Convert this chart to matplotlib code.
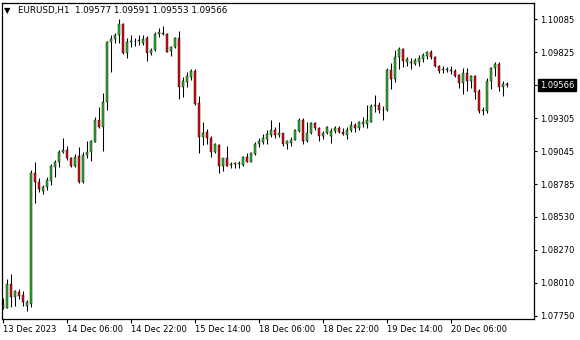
import numpy as np
from matplotlib import pyplot as plt
from matplotlib import transforms

# EURUSD H1 candles (bar 0 = 13 Dec 2023 14:00)
opens = [1.07841, 1.07813, 1.07998, 1.07903, 1.07941, 1.07913, 1.07829, 1.07842, 1.08873, 1.08802,
         1.08736, 1.08763, 1.08815, 1.08925, 1.08960, 1.09038, 1.09056, 1.08991, 1.08933, 1.09009,
         1.08807, 1.09017, 1.09038, 1.09122, 1.09293, 1.09234, 1.09434, 1.09904, 1.09928, 1.09961,
         1.10048, 1.09822, 1.09910, 1.09912, 1.09926, 1.09901, 1.09936, 1.09822, 1.09840, 1.09968,
         1.09981, 1.09973, 1.09838, 1.09869, 1.09936, 1.09550, 1.09594, 1.09633, 1.09678, 1.09430,
         1.09156, 1.09198, 1.09151, 1.09043, 1.09096, 1.08927, 1.08991, 1.08942, 1.08950, 1.08949,
         1.08942, 1.08999, 1.08964, 1.09025, 1.09101, 1.09122, 1.09145, 1.09177, 1.09214, 1.09172,
         1.09190, 1.09101, 1.09115, 1.09135, 1.09206, 1.09289, 1.09131, 1.09190, 1.09269, 1.09227,
         1.09167, 1.09188, 1.09167, 1.09206, 1.09230, 1.09196, 1.09178, 1.09210, 1.09253, 1.09227,
         1.09265, 1.09265, 1.09279, 1.09403, 1.09411, 1.09369, 1.09369, 1.09686, 1.09613, 1.09786,
         1.09851, 1.09747, 1.09739, 1.09733, 1.09751, 1.09773, 1.09800, 1.09824, 1.09791, 1.09718,
         1.09688, 1.09690, 1.09690, 1.09681, 1.09647, 1.09581, 1.09660, 1.09602, 1.09639, 1.09521,
         1.09363, 1.09366, 1.09599, 1.09699, 1.09733, 1.09552, 1.09577]
highs = [1.07892, 1.08041, 1.08084, 1.07955, 1.07960, 1.07947, 1.07876, 1.08899, 1.08964, 1.08834,
         1.08777, 1.08842, 1.08946, 1.08978, 1.09056, 1.09151, 1.09088, 1.09004, 1.09023, 1.09082,
         1.09043, 1.09125, 1.09139, 1.09316, 1.09397, 1.09505, 1.09917, 1.09961, 1.09977, 1.10085,
         1.10054, 1.09942, 1.09965, 1.09942, 1.09961, 1.09958, 1.09954, 1.09862, 1.09985, 1.10013,
         1.10032, 1.09977, 1.09877, 1.09943, 1.09995, 1.09633, 1.09674, 1.09694, 1.09694, 1.09481,
         1.09277, 1.09218, 1.09167, 1.09115, 1.09104, 1.08994, 1.09088, 1.08962, 1.08964, 1.08970,
         1.09009, 1.09030, 1.09043, 1.09122, 1.09149, 1.09186, 1.09214, 1.09293, 1.09237, 1.09277,
         1.09193, 1.09138, 1.09159, 1.09218, 1.09306, 1.09306, 1.09273, 1.09279, 1.09279, 1.09234,
         1.09206, 1.09243, 1.09226, 1.09245, 1.09249, 1.09230, 1.09234, 1.09285, 1.09269, 1.09287,
         1.09316, 1.09411, 1.09418, 1.09489, 1.09438, 1.09403, 1.09702, 1.09739, 1.09843, 1.09869,
         1.09862, 1.09791, 1.09778, 1.09784, 1.09804, 1.09822, 1.09832, 1.09840, 1.09796, 1.09725,
         1.09718, 1.09712, 1.09720, 1.09692, 1.09655, 1.09704, 1.09704, 1.09647, 1.09647, 1.09534,
         1.09395, 1.09621, 1.09712, 1.09751, 1.09751, 1.09599, 1.09591]
lows = [1.07805, 1.07809, 1.07817, 1.07825, 1.07886, 1.07831, 1.07792, 1.07823, 1.08642, 1.08728,
        1.08714, 1.08742, 1.08781, 1.08846, 1.08925, 1.09035, 1.08978, 1.08925, 1.08925, 1.08794,
        1.08794, 1.08990, 1.08970, 1.09120, 1.09227, 1.09051, 1.09371, 1.09673, 1.09899, 1.09899,
        1.09810, 1.09784, 1.09869, 1.09879, 1.09883, 1.09883, 1.09759, 1.09808, 1.09838, 1.09946,
        1.09958, 1.09828, 1.09796, 1.09863, 1.09455, 1.09476, 1.09552, 1.09607, 1.09407, 1.09030,
        1.09096, 1.09104, 1.09004, 1.09033, 1.08873, 1.08894, 1.08927, 1.08915, 1.08915, 1.08912,
        1.08934, 1.08960, 1.08962, 1.09017, 1.09082, 1.09104, 1.09104, 1.09156, 1.09151, 1.09161,
        1.09084, 1.09062, 1.09088, 1.09133, 1.09198, 1.09100, 1.09119, 1.09180, 1.09214, 1.09131,
        1.09143, 1.09182, 1.09114, 1.09188, 1.09190, 1.09175, 1.09143, 1.09200, 1.09200, 1.09214,
        1.09237, 1.09230, 1.09277, 1.09356, 1.09348, 1.09293, 1.09366, 1.09534, 1.09594, 1.09692,
        1.09712, 1.09718, 1.09692, 1.09725, 1.09718, 1.09751, 1.09773, 1.09773, 1.09706, 1.09662,
        1.09665, 1.09673, 1.09655, 1.09629, 1.09544, 1.09497, 1.09523, 1.09544, 1.09455, 1.09348,
        1.09332, 1.09350, 1.09534, 1.09639, 1.09523, 1.09484, 1.09553]
closes = [1.07813, 1.07998, 1.07903, 1.07947, 1.07907, 1.07863, 1.07858, 1.08875, 1.08807, 1.08747,
          1.08763, 1.08820, 1.08931, 1.08960, 1.09041, 1.09056, 1.08991, 1.08933, 1.09004, 1.08801,
          1.09017, 1.09041, 1.09125, 1.09293, 1.09234, 1.09434, 1.09904, 1.09928, 1.09961, 1.10048,
          1.09822, 1.09909, 1.09914, 1.09917, 1.09912, 1.09928, 1.09822, 1.09843, 1.09969, 1.09987,
          1.09973, 1.09830, 1.09867, 1.09936, 1.09556, 1.09603, 1.09639, 1.09678, 1.09422, 1.09156,
          1.09188, 1.09151, 1.09043, 1.09104, 1.08927, 1.08990, 1.08933, 1.08946, 1.08954, 1.08952,
          1.09001, 1.08964, 1.09033, 1.09104, 1.09130, 1.09153, 1.09180, 1.09214, 1.09177, 1.09193,
          1.09101, 1.09127, 1.09139, 1.09210, 1.09289, 1.09131, 1.09188, 1.09271, 1.09227, 1.09164,
          1.09193, 1.09234, 1.09206, 1.09230, 1.09196, 1.09180, 1.09214, 1.09253, 1.09227, 1.09277,
          1.09279, 1.09290, 1.09403, 1.09408, 1.09371, 1.09374, 1.09686, 1.09613, 1.09786, 1.09851,
          1.09759, 1.09769, 1.09753, 1.09761, 1.09784, 1.09804, 1.09824, 1.09788, 1.09715, 1.09682,
          1.09696, 1.09698, 1.09682, 1.09641, 1.09581, 1.09665, 1.09602, 1.09639, 1.09515, 1.09366,
          1.09375, 1.09599, 1.09699, 1.09733, 1.09555, 1.09576, 1.09566]

time_ticks = [0, 16, 32, 48, 64, 80, 96, 112]
time_labels = ['13 Dec 2023', '14 Dec 06:00', '14 Dec 22:00', '15 Dec 14:00',
               '18 Dec 06:00', '18 Dec 22:00', '19 Dec 14:00', '20 Dec 06:00']
price_ticks = [1.10085, 1.09825, 1.09566, 1.09305, 1.09045, 1.08785, 1.08530, 1.08270, 1.08010, 1.07750]
price_labels = ['1.10085', '1.09825', '', '1.09305', '1.09045', '1.08785', '1.08530', '1.08270', '1.08010', '1.07750']
last_price = 1.09566
header = 'EURUSD,H1  1.09577 1.09591 1.09553 1.09566'

BULL = '#2fb42f'
BEAR = '#dc1010'
FONT = 'DejaVu Sans'
FS = 6

o = np.array(opens)
h = np.array(highs)
l = np.array(lows)
c = np.array(closes)
x = np.arange(len(o))

fig = plt.figure(figsize=(5.8, 3.4), dpi=100)
ax = fig.add_axes([2.3 / 580, 21.5 / 340, 531.7 / 580, 315.8 / 340])

# wicks first, bodies on top
ax.vlines(x, l, h, color='black', linewidth=0.75, zorder=1)
up = c >= o
body = np.maximum(np.abs(c - o), 0.00001)
ax.bar(x, body, bottom=np.minimum(o, c), width=0.72,
       color=np.where(up, BULL, BEAR), edgecolor='black', linewidth=0.3, zorder=2)

ax.set_xlim(-0.175, 132.75)
ax.set_ylim(1.07730, 1.10216)

for side in ax.spines.values():
    side.set_linewidth(0.9)
    side.set_color('black')

ax.yaxis.tick_right()
ax.set_yticks(price_ticks)
ax.set_yticklabels(price_labels, fontsize=FS, family=FONT)
ax.set_xticks(time_ticks)
ax.set_xticklabels(time_labels, fontsize=FS, family=FONT)
for lbl in ax.get_xticklabels():
    lbl.set_ha('left')
ax.tick_params(axis='y', direction='out', length=2.5, width=0.8, pad=2)
ax.tick_params(axis='x', direction='out', length=3, width=0.8, pad=2)

# current price marker on the price scale
trans = transforms.blended_transform_factory(ax.transAxes, ax.transData)
ax.annotate(f'{last_price:.5f}', xy=(1, last_price), xycoords=trans,
            xytext=(4.3, 0), textcoords='offset points', ha='left', va='center',
            color='white', fontsize=FS, family=FONT, annotation_clip=False,
            bbox=dict(boxstyle='square,pad=0.2', fc='black', ec='black'))

# symbol header at the top left
fig.text(4 / 580, 1 - 10.5 / 340, '\u25bc', fontsize=6, family=FONT, va='center', ha='left')
fig.text(18 / 580, 1 - 10.5 / 340, header, fontsize=6.3, family=FONT, va='center', ha='left')

plt.savefig('out.png', dpi=100)
